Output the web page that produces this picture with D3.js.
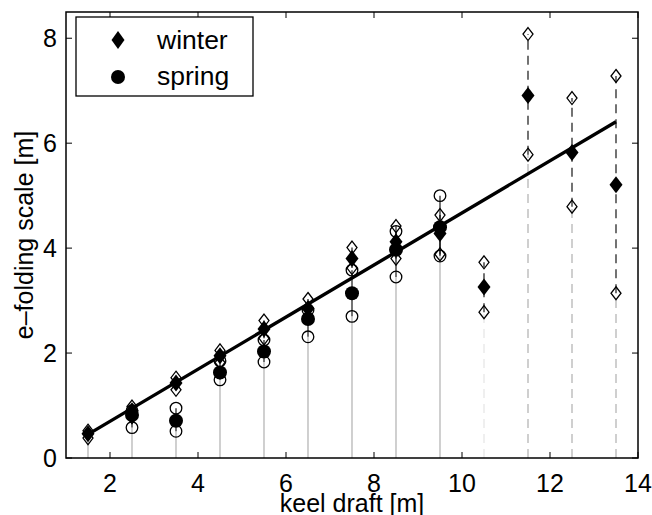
<!DOCTYPE html>
<html>
<head>
<meta charset="utf-8">
<script src="https://cdn.jsdelivr.net/npm/d3@7"></script>
<style>
  html, body { margin: 0; padding: 0; background: #fff; }
  svg { display: block; font-family: "Liberation Sans", Arial, Helvetica, sans-serif; }
</style>
</head>
<body>
<svg id="chart" width="652" height="515"></svg>
<script>
// ---- data ----
const keelDraft   = [1.5, 2.5, 3.5, 4.5, 5.5, 6.5, 7.5, 8.5, 9.5, 10.5, 11.5, 12.5, 13.5];
const winterMean  = [0.46, 0.90, 1.43, 1.95, 2.46, 2.85, 3.80, 4.12, 4.28, 3.26, 6.91, 5.82, 5.21];
const winterHigh  = [0.52, 0.98, 1.53, 2.05, 2.62, 3.03, 4.01, 4.42, 4.63, 3.73, 8.08, 6.86, 7.28];
const winterLow   = [0.38, 0.78, 1.30, 1.82, 2.28, 2.70, 3.62, 3.80, 3.88, 2.78, 5.78, 4.79, 3.14];
const springDraft = [2.5, 3.5, 4.5, 5.5, 6.5, 7.5, 8.5, 9.5];
const springMean  = [0.82, 0.71, 1.63, 2.03, 2.65, 3.14, 3.97, 4.40];
const springHigh  = [0.90, 0.95, 1.85, 2.25, 2.82, 3.58, 4.32, 5.00];
const springLow   = [0.58, 0.51, 1.49, 1.83, 2.31, 2.70, 3.45, 3.85];
const fitX = [1.5, 13.5];
const fitY = [0.45, 6.41];
const xTicks = [2, 4, 6, 8, 10, 12, 14];
const yTicks = [0, 2, 4, 6, 8];
const legendLabels = ["winter", "spring"];
const xTitle = "keel draft [m]";
const yTitle = "e\u2013folding scale [m]";

// ---- layout ----
const W = 652, H = 515;
const m = {left: 66, right: 14, top: 12, bottom: 57};
const x = d3.scaleLinear().domain([1, 14]).range([m.left, W - m.right]);
const y = d3.scaleLinear().domain([0, 8.5]).range([H - m.bottom, m.top]);
const svg = d3.select("#chart");

const dashedFrom = 10.5;

function diamond(w, h) {
  return `M0,${-h}L${w},0L0,${h}L${-w},0Z`;
}

// gray stems from 0 to the lowest bound
const stems = keelDraft.map((d, i) => {
  const j = springDraft.indexOf(d);
  const lo = j >= 0 ? Math.min(winterLow[i], springLow[j]) : winterLow[i];
  return {x: d, lo};
});
svg.append("g").selectAll("line").data(stems).join("line")
  .attr("x1", d => x(d.x)).attr("x2", d => x(d.x))
  .attr("y1", y(0)).attr("y2", d => y(d.lo))
  .attr("stroke", d => d.x === 10.5 ? "#ececec" : "#c4c4c4")
  .attr("stroke-width", 1.6)
  .attr("stroke-dasharray", d => d.x >= dashedFrom ? "9,6" : null);

// black error lines
const errW = keelDraft.map((d, i) => ({x: d, lo: winterLow[i], hi: winterHigh[i]}));
const errS = springDraft.map((d, i) => ({x: d, lo: springLow[i], hi: springHigh[i]}));
svg.append("g").selectAll("line").data(errW.concat(errS)).join("line")
  .attr("x1", d => x(d.x)).attr("x2", d => x(d.x))
  .attr("y1", d => y(d.lo)).attr("y2", d => y(d.hi))
  .attr("stroke", "#000").attr("stroke-width", 1.1)
  .attr("stroke-dasharray", d => d.x >= dashedFrom ? "9,6" : null);

// open markers (bounds)
const gOpen = svg.append("g").attr("fill", "none").attr("stroke", "#000").attr("stroke-width", 1.3);
const openCirc = [];
springDraft.forEach((d, i) => { openCirc.push({x: d, v: springLow[i]}); openCirc.push({x: d, v: springHigh[i]}); });
gOpen.selectAll("circle").data(openCirc).join("circle")
  .attr("cx", d => x(d.x)).attr("cy", d => y(d.v)).attr("r", 5.8);
const openDia = [];
keelDraft.forEach((d, i) => { openDia.push({x: d, v: winterLow[i]}); openDia.push({x: d, v: winterHigh[i]}); });
gOpen.selectAll("path").data(openDia).join("path")
  .attr("d", diamond(5, 6.5))
  .attr("transform", d => `translate(${x(d.x)},${y(d.v)})`);

// filled markers (means)
svg.append("g").selectAll("circle").data(springDraft).join("circle")
  .attr("cx", d => x(d)).attr("cy", (d, i) => y(springMean[i])).attr("r", 7)
  .attr("fill", "#000");
svg.append("g").selectAll("path").data(keelDraft).join("path")
  .attr("d", diamond(6.5, 8.5))
  .attr("transform", (d, i) => `translate(${x(d)},${y(winterMean[i])})`)
  .attr("fill", "#000");

// regression line
svg.append("line")
  .attr("x1", x(fitX[0])).attr("y1", y(fitY[0]))
  .attr("x2", x(fitX[1])).attr("y2", y(fitY[1]))
  .attr("stroke", "#000").attr("stroke-width", 3.4);

// ---- axes (box with inward ticks) ----
const tl = 6;
const axG = svg.append("g").attr("stroke", "#000").attr("stroke-width", 1.5);
axG.append("rect")
  .attr("x", m.left).attr("y", m.top)
  .attr("width", W - m.left - m.right).attr("height", H - m.top - m.bottom)
  .attr("fill", "none");
xTicks.forEach(t => {
  axG.append("line").attr("x1", x(t)).attr("x2", x(t)).attr("y1", y(0)).attr("y2", y(0) - tl).attr("stroke-width", 1);
  axG.append("line").attr("x1", x(t)).attr("x2", x(t)).attr("y1", m.top).attr("y2", m.top + tl).attr("stroke-width", 1);
});
yTicks.forEach(t => {
  axG.append("line").attr("x1", m.left).attr("x2", m.left + tl).attr("y1", y(t)).attr("y2", y(t)).attr("stroke-width", 1);
  axG.append("line").attr("x1", W - m.right).attr("x2", W - m.right - tl).attr("y1", y(t)).attr("y2", y(t)).attr("stroke-width", 1);
});

svg.append("g").selectAll("text").data(xTicks).join("text")
  .attr("x", d => x(d)).attr("y", 492)
  .attr("text-anchor", "middle").attr("font-size", 25).attr("fill", "#000")
  .text(d => d);
svg.append("g").selectAll("text").data(yTicks).join("text")
  .attr("x", 57).attr("y", d => y(d) + 9)
  .attr("text-anchor", "end").attr("font-size", 25).attr("fill", "#000")
  .text(d => d);

svg.append("text")
  .attr("x", (m.left + W - m.right) / 2).attr("y", 512)
  .attr("text-anchor", "middle").attr("font-size", 25)
  .text(xTitle);
svg.append("text")
  .attr("transform", `translate(33,${(m.top + H - m.bottom) / 2}) rotate(-90)`)
  .attr("text-anchor", "middle").attr("font-size", 25)
  .text(yTitle);

// ---- legend ----
const lg = svg.append("g");
lg.append("rect").attr("x", 76).attr("y", 17).attr("width", 177).attr("height", 79)
  .attr("fill", "#fff").attr("stroke", "#000").attr("stroke-width", 1.3);
lg.append("path").attr("d", diamond(6.5, 9)).attr("transform", "translate(118,40)").attr("fill", "#000");
lg.append("circle").attr("cx", 118).attr("cy", 77).attr("r", 7).attr("fill", "#000");
lg.selectAll("text").data(legendLabels).join("text")
  .attr("x", 157).attr("y", (d, i) => i === 0 ? 49 : 85)
  .attr("font-size", 26.5).attr("fill", "#000")
  .text(d => d);
</script>
</body>
</html>
